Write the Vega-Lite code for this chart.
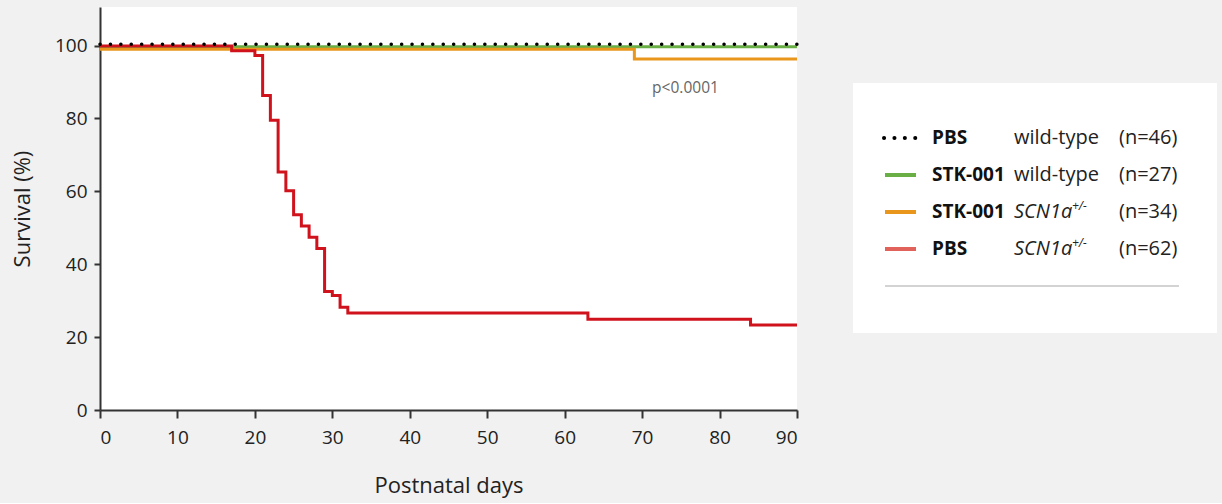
{
  "$schema": "https://vega.github.io/schema/vega-lite/v6.json",
  "background": "#f1f1f1",
  "padding": {"left": 11, "top": 7, "right": 5, "bottom": 7},
  "config": {
    "font": "Open Sans",
    "view": {"stroke": null},
    "axis": {
      "grid": false,
      "domainColor": "#333333",
      "domainWidth": 2,
      "tickColor": "#333333",
      "tickWidth": 2,
      "labelColor": "#222222",
      "titleColor": "#222222",
      "titleFontWeight": "normal",
      "labelFontSize": 19,
      "titleFontSize": 22
    }
  },
  "datasets": {
    "survival": [
      {"series": "PBS wild-type", "day": 0, "survival": 100.4},
      {"series": "PBS wild-type", "day": 90, "survival": 100.4},
      {"series": "STK-001 wild-type", "day": 0, "survival": 99.7},
      {"series": "STK-001 wild-type", "day": 90, "survival": 99.7},
      {"series": "STK-001 SCN1a+/-", "day": 0, "survival": 99.0},
      {"series": "STK-001 SCN1a+/-", "day": 69, "survival": 96.3},
      {"series": "STK-001 SCN1a+/-", "day": 90, "survival": 96.3},
      {"series": "PBS SCN1a+/-", "day": 0, "survival": 99.9},
      {"series": "PBS SCN1a+/-", "day": 17, "survival": 98.6},
      {"series": "PBS SCN1a+/-", "day": 20, "survival": 97.3},
      {"series": "PBS SCN1a+/-", "day": 21, "survival": 86.3},
      {"series": "PBS SCN1a+/-", "day": 22, "survival": 79.5},
      {"series": "PBS SCN1a+/-", "day": 23, "survival": 65.3},
      {"series": "PBS SCN1a+/-", "day": 24, "survival": 60.2},
      {"series": "PBS SCN1a+/-", "day": 25, "survival": 53.6},
      {"series": "PBS SCN1a+/-", "day": 26, "survival": 50.5},
      {"series": "PBS SCN1a+/-", "day": 27, "survival": 47.4},
      {"series": "PBS SCN1a+/-", "day": 28, "survival": 44.3},
      {"series": "PBS SCN1a+/-", "day": 29, "survival": 32.5},
      {"series": "PBS SCN1a+/-", "day": 30, "survival": 31.4},
      {"series": "PBS SCN1a+/-", "day": 31, "survival": 28.2},
      {"series": "PBS SCN1a+/-", "day": 32, "survival": 26.6},
      {"series": "PBS SCN1a+/-", "day": 63, "survival": 24.9},
      {"series": "PBS SCN1a+/-", "day": 84, "survival": 23.3},
      {"series": "PBS SCN1a+/-", "day": 90, "survival": 23.3}
    ],
    "legendRows": [
      {"series": "PBS wild-type", "treatment": "PBS", "genotype": "wild-type", "sup": "", "n": "(n=46)"},
      {"series": "STK-001 wild-type", "treatment": "STK-001", "genotype": "wild-type", "sup": "", "n": "(n=27)"},
      {"series": "STK-001 SCN1a+/-", "treatment": "STK-001", "genotype": "SCN1a", "sup": "+/-", "n": "(n=34)"},
      {"series": "PBS SCN1a+/-", "treatment": "PBS", "genotype": "SCN1a", "sup": "+/-", "n": "(n=62)"}
    ],
    "annotation": [
      {"day": 75.6, "survival": 88.3, "label": "p<0.0001"}
    ]
  },
  "resolve": {"scale": {"x": "independent", "y": "independent", "color": "independent"}},
  "spacing": 49,
  "hconcat": [
    {
      "width": 697,
      "height": 403,
      "view": {"fill": "white", "stroke": null},
      "encoding": {
        "x": {
          "field": "day", "type": "quantitative",
          "scale": {"domain": [0, 90], "nice": false},
          "axis": {"values": [0, 10, 20, 30, 40, 50, 60, 70, 80, 90], "title": "Postnatal days", "tickSize": 8, "labelPadding": 10, "titlePadding": 28, "titleFontSize": 22}
        },
        "y": {
          "field": "survival", "type": "quantitative",
          "scale": {"domain": [0, 110.6], "nice": false},
          "axis": {"values": [0, 20, 40, 60, 80, 100], "title": "Survival (%)", "tickSize": 6, "labelPadding": 7, "titlePadding": 20}
        }
      },
      "layer": [
        {
          "data": {"name": "survival"},
          "transform": [{"filter": "datum.series === 'STK-001 wild-type'"}],
          "mark": {"type": "line", "interpolate": "step-after", "strokeWidth": 3, "color": "#6aae46"},
          "encoding": {}
        },
        {
          "data": {"name": "survival"},
          "transform": [{"filter": "datum.series === 'STK-001 SCN1a+/-'"}],
          "mark": {"type": "line", "interpolate": "step-after", "strokeWidth": 3, "color": "#e9961c"},
          "encoding": {}
        },
        {
          "data": {"name": "survival"},
          "transform": [{"filter": "datum.series === 'PBS SCN1a+/-'"}],
          "mark": {"type": "line", "interpolate": "step-after", "strokeWidth": 3, "color": "#d0121c"},
          "encoding": {}
        },
        {
          "data": {"name": "survival"},
          "transform": [{"filter": "datum.series === 'PBS wild-type'"}],
          "mark": {"type": "line", "interpolate": "step-after", "strokeWidth": 3.5, "strokeCap": "round", "strokeDash": [0.1, 10.3], "color": "#000000"},
          "encoding": {}
        },
        {
          "data": {"name": "annotation"},
          "mark": {"type": "text", "fontSize": 15.5, "color": "#666666", "align": "center", "baseline": "middle"},
          "encoding": {"text": {"field": "label"}}
        }
      ]
    },
    {
      "spacing": 20,
      "vconcat": [
        {
          "width": 364,
          "height": 56,
          "data": {"values": []},
          "mark": "text",
          "encoding": {}
        },
        {
          "width": 364,
          "height": 250,
          "view": {"fill": "white", "stroke": null},
          "data": {"name": "legendRows"},
          "encoding": {
            "y": {
              "field": "series", "type": "nominal",
              "scale": {"type": "point", "domain": ["PBS wild-type", "STK-001 wild-type", "STK-001 SCN1a+/-", "PBS SCN1a+/-", "sep"], "range": [55, 203], "padding": 0},
              "axis": null
            }
          },
          "layer": [
            {
              "transform": [{"filter": "datum.series === 'PBS wild-type'"}],
              "mark": {"type": "rule", "strokeWidth": 4, "strokeCap": "round", "strokeDash": [0.1, 10.3], "color": "#000000"},
              "encoding": {
                "x": {"datum": 31, "type": "quantitative", "scale": {"domain": [0, 364], "nice": false}, "axis": null},
                "x2": {"datum": 63}
              }
            },
            {
              "transform": [{"filter": "datum.series !== 'PBS wild-type'"}],
              "mark": {"type": "rule", "strokeWidth": 4},
              "encoding": {
                "x": {"datum": 32, "type": "quantitative"},
                "x2": {"datum": 63},
                "color": {"field": "series", "type": "nominal", "scale": {"domain": ["STK-001 wild-type", "STK-001 SCN1a+/-", "PBS SCN1a+/-"], "range": ["#6aae46", "#e9961c", "#e0625a"]}, "legend": null}
              }
            },
            {
              "mark": {"type": "text", "fontSize": 19, "fontWeight": "bold", "color": "#111111", "align": "left", "baseline": "middle"},
              "encoding": {"x": {"datum": 79, "type": "quantitative"}, "text": {"field": "treatment"}}
            },
            {
              "transform": [{"filter": "datum.sup === ''"}],
              "mark": {"type": "text", "fontSize": 20, "color": "#222222", "align": "left", "baseline": "middle"},
              "encoding": {"x": {"datum": 161, "type": "quantitative"}, "text": {"field": "genotype"}}
            },
            {
              "transform": [{"filter": "datum.sup !== ''"}],
              "mark": {"type": "text", "fontSize": 20, "fontStyle": "italic", "color": "#222222", "align": "left", "baseline": "middle"},
              "encoding": {"x": {"datum": 161, "type": "quantitative"}, "text": {"field": "genotype"}}
            },
            {
              "transform": [{"filter": "datum.sup !== ''"}],
              "mark": {"type": "text", "fontSize": 12, "fontStyle": "italic", "color": "#222222", "align": "left", "baseline": "middle", "dy": -6},
              "encoding": {"x": {"datum": 219, "type": "quantitative"}, "text": {"field": "sup"}}
            },
            {
              "mark": {"type": "text", "fontSize": 20, "color": "#222222", "align": "left", "baseline": "middle"},
              "encoding": {"x": {"datum": 266, "type": "quantitative"}, "text": {"field": "n"}}
            },
            {
              "transform": [{"filter": "datum.series === 'PBS wild-type'"}],
              "mark": {"type": "rule", "strokeWidth": 1.5, "color": "#c4c4c4"},
              "encoding": {
                "x": {"datum": 32, "type": "quantitative"},
                "x2": {"datum": 326},
                "y": {"datum": "sep"}
              }
            }
          ]
        }
      ]
    }
  ]
}
